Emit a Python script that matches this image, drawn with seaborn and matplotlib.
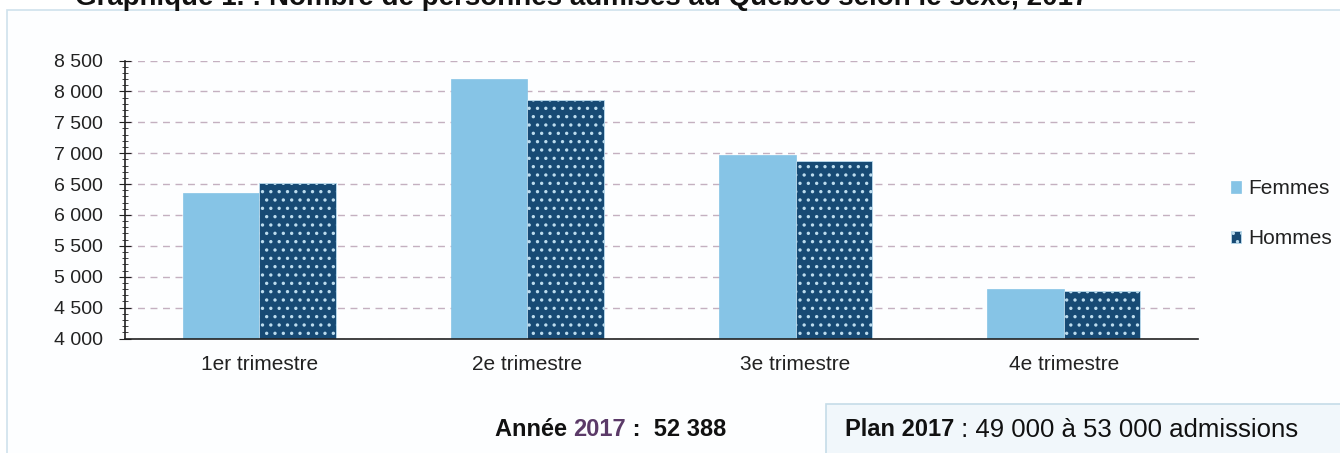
import matplotlib
matplotlib.use("Agg")
import matplotlib.pyplot as plt
import matplotlib.patches as mpatches
from matplotlib.ticker import MultipleLocator, FuncFormatter, FixedLocator
import seaborn as sns
import pandas as pd

# data
trimestres = ["1er trimestre", "2e trimestre", "3e trimestre", "4e trimestre"]
femmes = [6360, 8205, 6975, 4800]
hommes = [6515, 7865, 6880, 4768]
sexes = ["Femmes", "Hommes"]
couleurs = ["#86c4e6", "#174a74"]

df = pd.DataFrame({
    "trimestre": trimestres * 2,
    "sexe": ["Femmes"] * 4 + ["Hommes"] * 4,
    "admissions": femmes + hommes,
})

sns.set_style("white")
plt.rcParams["font.family"] = ["Liberation Sans", "DejaVu Sans"]
plt.rcParams["hatch.linewidth"] = 1.2

W, H = 1340, 453
fig = plt.figure(figsize=(W / 100, H / 100), dpi=100)

# outer panel border
fig.patches.append(mpatches.Rectangle((7 / W, -0.01), 1.0, 1 - 10 / H + 0.01, transform=fig.transFigure,
                                      facecolor="#fdfeff", edgecolor="#cfe2ec", linewidth=1.2, zorder=-2))
# plan box bottom right
fig.patches.append(mpatches.Rectangle((826 / W, -0.01), 1.0, (453 - 404) / H + 0.01, transform=fig.transFigure,
                                      facecolor="#f1f7fb", edgecolor="#c5dce8", linewidth=1.2, zorder=-1))

ax = fig.add_axes([125 / W, 1 - 338.5 / H, 1073 / W, 278 / H])
ax.set_facecolor("none")

sns.barplot(data=df, x="trimestre", y="admissions", hue="sexe", palette=couleurs,
            width=0.57, legend=False, ax=ax, saturation=1)

for bar in ax.containers[0]:
    bar.set_edgecolor("#86c4e6")
    bar.set_linewidth(0.5)
for bar in ax.containers[1]:
    bar.set_hatch("..")
    bar.set_edgecolor("#bcdcee")
    bar.set_linewidth(0.6)

ax.set_ylim(4000, 8500)
ax.set_xlim(-0.5, 3.5)
ax.yaxis.set_major_locator(MultipleLocator(500))
ax.yaxis.set_minor_locator(MultipleLocator(100))
ax.yaxis.set_major_formatter(FuncFormatter(lambda v, p: f"{v:,.0f}".replace(",", " ")))
ax.yaxis.grid(True, which="major", linestyle=(0, (5, 4)), color="#c4b0c0", linewidth=1)
ax.set_axisbelow(True)

ax.xaxis.set_minor_locator(FixedLocator([0.5, 1.5, 2.5, 3.5]))
ax.tick_params(axis="x", which="major", length=0, pad=12, labelsize=15, labelcolor="#222222")
ax.tick_params(axis="x", which="minor", length=6, direction="out", color="#222222")
ax.tick_params(axis="y", which="major", length=8, direction="inout", labelsize=14, pad=12,
               color="#222222", labelcolor="#222222", left=True)
ax.tick_params(axis="y", which="minor", length=4, direction="inout", color="#222222", left=True)

for s in ["top", "right"]:
    ax.spines[s].set_visible(False)
for s in ["left", "bottom"]:
    ax.spines[s].set_color("#222222")
    ax.spines[s].set_linewidth(1.2)
ax.set_xlabel("")
ax.set_ylabel("")

handles = [ax.containers[0][0], ax.containers[1][0]]
leg = fig.legend(handles, sexes, loc="upper left", bbox_to_anchor=(1231 / W, 1 - 179 / H),
                 frameon=False, fontsize=15, handlelength=0.5, handleheight=0.5,
                 handletextpad=0.35, labelspacing=1.5, borderpad=0, borderaxespad=0)
for t in leg.get_texts():
    t.set_color("#222222")

# title, cut at the top as in the original
fig.text(582 / W, 1 - 5 / H, "Graphique 1. : Nombre de personnes admises au Québec selon le sexe, 2017",
         ha="center", va="baseline", fontsize=20, fontweight="bold", color="#111111")


def texte_suite(x_px, y_px, morceaux):
    # write pieces of text one after the other on the same line
    fig.canvas.draw()
    r = fig.canvas.get_renderer()
    x = x_px
    for txt, kw in morceaux:
        t = fig.text(x / W, 1 - y_px / H, txt, va="center", ha="left", **kw)
        x += t.get_window_extent(renderer=r).width


texte_suite(495, 430, [
    ("Année ", dict(fontsize=17, fontweight="bold", color="#111111")),
    ("2017", dict(fontsize=17, fontweight="bold", color="#5b3a68")),
    (" :  52 388", dict(fontsize=17, fontweight="bold", color="#111111")),
])
texte_suite(845, 430, [
    ("Plan 2017", dict(fontsize=17, fontweight="bold", color="#111111")),
    (" : 49 000 à 53 000 admissions", dict(fontsize=18.5, color="#111111")),
])

fig.savefig("out.png", dpi=100)
